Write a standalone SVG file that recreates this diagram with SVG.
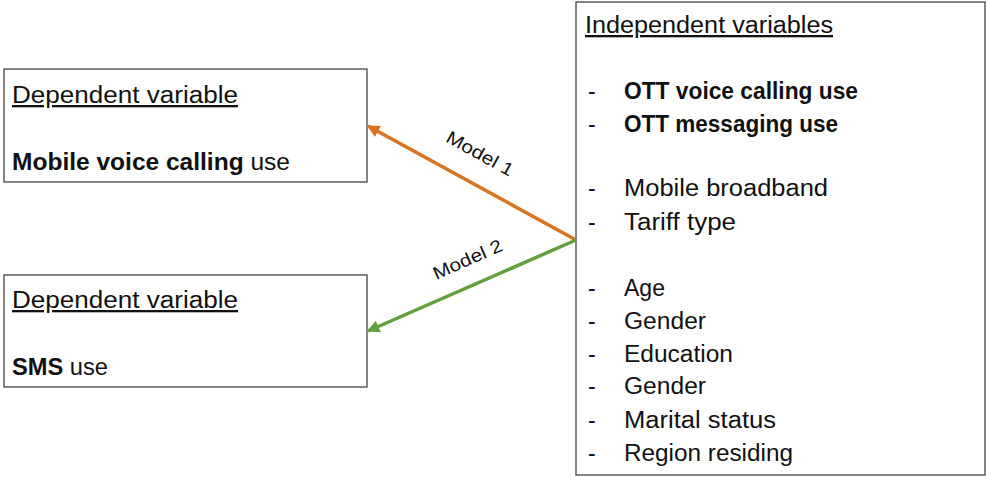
<svg xmlns="http://www.w3.org/2000/svg" width="987" height="477" viewBox="0 0 987 477">
  <style>
    text { font-family: "Liberation Sans", Arial, sans-serif; font-size: 23px; fill: #111; }
    .box { fill: #fff; stroke: #444; stroke-width: 1.3; }
    .head { text-decoration: underline; }
    .b { font-weight: bold; }
    .lbl { font-size: 18px; }
  </style>
  <defs>
    <marker id="arrOrange" viewBox="0 0 10 10" refX="9" refY="5" markerWidth="3.6" markerHeight="3.6" orient="auto">
      <path d="M0,0 L10,5 L0,10 z" fill="#D9731F"/>
    </marker>
    <marker id="arrGreen" viewBox="0 0 10 10" refX="9" refY="5" markerWidth="3.6" markerHeight="3.6" orient="auto">
      <path d="M0,0 L10,5 L0,10 z" fill="#62A03E"/>
    </marker>
  </defs>
  <rect width="987" height="477" fill="#fff"/>

  <g id="dep-voice">
    <rect class="box" x="4" y="69" width="363" height="113"/>
    <text class="head" x="12" y="103" textLength="226" lengthAdjust="spacingAndGlyphs">Dependent variable</text>
    <text x="12" y="170" textLength="278" lengthAdjust="spacingAndGlyphs"><tspan class="b">Mobile voice calling</tspan> use</text>
  </g>

  <g id="dep-sms">
    <rect class="box" x="4" y="275" width="363" height="112"/>
    <text class="head" x="12" y="308" textLength="226" lengthAdjust="spacingAndGlyphs">Dependent variable</text>
    <text x="12" y="375" textLength="96" lengthAdjust="spacingAndGlyphs"><tspan class="b">SMS</tspan> use</text>
  </g>

  <g id="independent">
    <rect class="box" x="576" y="2" width="409" height="473"/>
    <text class="head" x="585" y="33" textLength="248" lengthAdjust="spacingAndGlyphs">Independent variables</text>
    <g>
      <text x="588" y="99">-</text><text class="b" x="624" y="99" textLength="234" lengthAdjust="spacingAndGlyphs">OTT voice calling use</text>
      <text x="588" y="132">-</text><text class="b" x="624" y="132" textLength="214" lengthAdjust="spacingAndGlyphs">OTT messaging use</text>
      <text x="588" y="196">-</text><text x="624" y="196" textLength="204" lengthAdjust="spacingAndGlyphs">Mobile broadband</text>
      <text x="588" y="230">-</text><text x="624" y="230" textLength="112" lengthAdjust="spacingAndGlyphs">Tariff type</text>
      <text x="588" y="296">-</text><text x="624" y="296" textLength="41" lengthAdjust="spacingAndGlyphs">Age</text>
      <text x="588" y="329">-</text><text x="624" y="329" textLength="82" lengthAdjust="spacingAndGlyphs">Gender</text>
      <text x="588" y="362">-</text><text x="624" y="362" textLength="109" lengthAdjust="spacingAndGlyphs">Education</text>
      <text x="588" y="394">-</text><text x="624" y="394" textLength="82" lengthAdjust="spacingAndGlyphs">Gender</text>
      <text x="588" y="428">-</text><text x="624" y="428" textLength="152" lengthAdjust="spacingAndGlyphs">Marital status</text>
      <text x="588" y="461">-</text><text x="624" y="461" textLength="169" lengthAdjust="spacingAndGlyphs">Region residing</text>
    </g>
  </g>

  <g id="connectors">
    <line x1="576" y1="240" x2="368" y2="126" stroke="#D9731F" stroke-width="3.5" marker-end="url(#arrOrange)"/>
    <line x1="576" y1="240" x2="368" y2="331" stroke="#62A03E" stroke-width="3.5" marker-end="url(#arrGreen)"/>
    <text class="lbl" transform="translate(477,159) rotate(29)" text-anchor="middle" textLength="74" lengthAdjust="spacingAndGlyphs">Model 1</text>
    <text class="lbl" transform="translate(470,265) rotate(-24)" text-anchor="middle" textLength="74" lengthAdjust="spacingAndGlyphs">Model 2</text>
  </g>
</svg>
